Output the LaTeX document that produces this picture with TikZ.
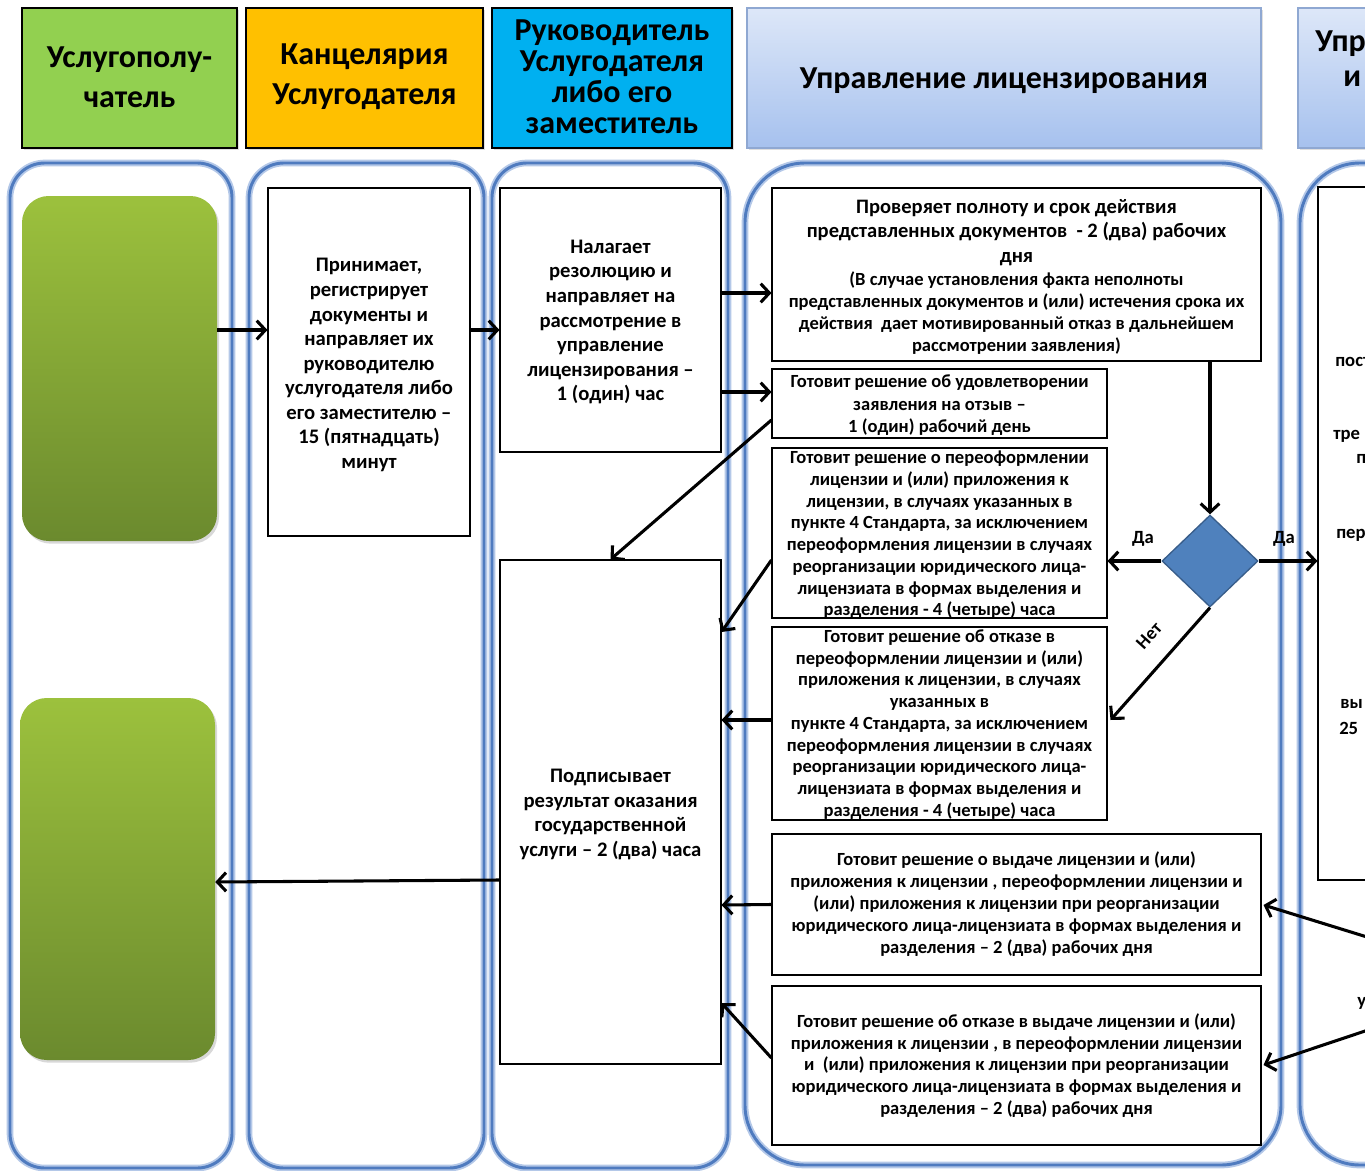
\documentclass[tikz,border=0pt]{standalone}
\usepackage{fontspec}
\setmainfont{Carlito}
\usetikzlibrary{arrows.meta,shapes.geometric,calc,shadows}
\definecolor{hgreen}{HTML}{92D050}
\definecolor{horange}{HTML}{FFC000}
\definecolor{hcyan}{HTML}{00B0F0}
\definecolor{htop}{HTML}{DDE7F8}
\definecolor{hbot}{HTML}{A6C1EE}
\definecolor{hborder}{HTML}{8FA8D2}
\definecolor{lanec}{HTML}{4F7BBF}
\definecolor{laneglow}{HTML}{B4C8E8}
\definecolor{gtop}{HTML}{9CC13D}
\definecolor{gbot}{HTML}{6B8A2E}
\definecolor{dfill}{HTML}{4F81BD}
\definecolor{dline}{HTML}{385D8A}
\tikzset{
  span/.style n args={4}{at={({(#1+#3)/2},{(#2+#4)/2})},
    minimum width={(#3-#1)*0.75pt}, minimum height={(#4-#2)*0.75pt}},
  hdr/.style={draw=black, line width=0.8pt, inner sep=0pt,
    drop shadow={opacity=0.25, shadow xshift=1.5pt, shadow yshift=-1.5pt}},
  hdrblue/.style={hdr, draw=hborder, top color=htop, bottom color=hbot},
  htxt/.style={inner sep=0pt, align=center, font=\fontsize{24}{30}\selectfont\bfseries},
  lane/.style={draw=lanec, line width=2.2pt, inner sep=0pt,
    preaction={draw=laneglow, line width=5pt}},
  gbox/.style={rounded corners=20pt, top color=gtop, bottom color=gbot, inner sep=0pt,
    drop shadow={opacity=0.3, shadow xshift=1.5pt, shadow yshift=-2pt}},
  box/.style={draw=black, line width=0.8pt, fill=white, inner sep=0pt},
  btxt/.style={inner sep=0pt, align=center, font=\fontsize{15.5}{18.4}\selectfont\bfseries},
  stxt/.style={inner sep=0pt, align=center, font=\fontsize{13.9}{16.3}\selectfont\bfseries},
  arr/.style={line width=2.3pt, -{Straight Barb[length=6.5pt,width=14pt]}},
  lbl/.style={font=\fontsize{14}{16}\selectfont\bfseries, inner sep=0pt},
  frag/.style={font=\fontsize{14}{16}\selectfont\bfseries, inner sep=0pt, anchor=west},
}
\begin{document}
\begin{tikzpicture}[x=0.75pt,y=-0.75pt]
\useasboundingbox (0,0) rectangle (1365,1171);
\fill[white] (0,0) rectangle (1365,1171);

% headers
\node[hdr, fill=hgreen, span={22}{8}{237}{148}] (h1) {};
\node[htxt] (h1t) at ($(h1.center)+(0,-1)$) {Услугополу-\\чатель};
\node[hdr, fill=horange, span={246}{8}{483}{148}] (h2) {};
\node[htxt] (h2t) at ($(h2.center)+(0,-1)$) {Канцелярия\\Услугодателя};
\node[hdr, fill=hcyan, span={492}{8}{732}{148}] (h3) {};
\node[htxt, font=\fontsize{24}{23.3}\selectfont\bfseries] (h3t) at ($(h3.center)+(0,-1.5)$) {Руководитель\\Услугодателя\\либо его\\заместитель};
\node[hdrblue, span={747}{8}{1261}{148}] (h4) {};
\node[htxt] (h4t) at ($(h4.center)+(0,3)$) {Управление лицензирования};
\node[hdrblue, span={1298}{8}{1500}{148}] (h5) {};
\node[htxt, anchor=west] (h5a) at (1315,44) {Упр};
\node[htxt, anchor=west] (h5b) at (1343,79) {и};

% lanes
\node[lane, rounded corners=26pt, span={10}{163}{232}{1168}] (lane1) {};
\node[lane, rounded corners=26pt, span={249}{163}{484}{1168}] (lane2) {};
\node[lane, rounded corners=26pt, span={492}{163}{728}{1168}] (lane3) {};
\node[lane, rounded corners=45pt, span={745}{163}{1281}{1165}] (lane4) {};
\node[lane, rounded corners=45pt, span={1300}{163}{1700}{1165}] (lane5) {};

% green terminals
\node[gbox, span={22}{196}{217}{541}] (g1) {};
\node[gbox, span={20}{698}{215}{1060}] (g2) {};

% lane 2
\node[box, span={268}{188}{470}{536}] (k1) {};
\node[btxt] (k1t) at ($(k1.center)+(0,3)$) {Принимает,\\регистрирует\\документы и\\направляет их\\руководителю\\услугодателя либо\\его заместителю –\\15 (пятнадцать)\\минут};

% lane 3
\node[box, span={500}{188}{721}{452}] (r1) {};
\node[btxt] (r1t) at ($(r1.center)+(0,2)$) {Налагает\\резолюцию и\\направляет на\\рассмотрение в\\управление\\лицензирования –\\1 (один) час};
\node[box, span={500}{560}{721}{1064}] (p2) {};
\node[btxt] (p2t) at ($(p2.center)+(0,2.5)$) {Подписывает\\результат оказания\\государственной\\услуги – 2 (два) часа};

% lane 4
\node[box, span={772}{188}{1261}{361}] (b1) {};
\node[btxt, font=\fontsize{15.4}{18.3}\selectfont\bfseries] (b1t) at ($(b1.north)+(0,45)$) {Проверяет полноту и срок действия\\представленных документов~ - 2 (два) рабочих\\дня};
\node[stxt, font=\fontsize{13.9}{16.5}\selectfont\bfseries] (b1u) at ($(b1.north)+(0,126)$) {(В случае установления факта неполноты\\представленных документов и (или) истечения срока их\\действия~ дает мотивированный отказ в дальнейшем\\рассмотрении заявления)};
\node[box, span={772}{369}{1107}{438}] (b2) {};
\node[stxt, font=\fontsize{13.9}{16.9}\selectfont\bfseries] (b2t) at ($(b2.center)+(0,2)$) {Готовит решение об удовлетворении\\заявления на отзыв –\\1 (один) рабочий день};
\node[box, span={772}{448}{1107}{618}] (b3) {};
\node[stxt] (b3t) at ($(b3.center)+(0,2)$) {Готовит решение о переоформлении\\лицензии и (или) приложения к\\лицензии, в случаях указанных в\\пункте 4 Стандарта, за исключением\\переоформления лицензии в случаях\\реорганизации юридического лица-\\лицензиата в формах выделения и\\разделения - 4 (четыре) часа};
\node[box, span={772}{627}{1107}{820}] (b4) {};
\node[stxt] (b4t) at ($(b4.center)+(0,1)$) {Готовит решение об отказе в\\переоформлении лицензии и (или)\\приложения к лицензии, в случаях\\указанных в\\пункте 4 Стандарта, за исключением\\переоформления лицензии в случаях\\реорганизации юридического лица-\\лицензиата в формах выделения и\\разделения - 4 (четыре) часа};
\node[box, span={772}{834}{1261}{975}] (b5) {};
\node[stxt, font=\fontsize{13.9}{16.5}\selectfont\bfseries] (b5t) at (b5.center) {Готовит решение о выдаче лицензии и (или)\\приложения к лицензии , переоформлении лицензии и\\(или) приложения к лицензии при реорганизации\\юридического лица-лицензиата в формах выделения и\\разделения – 2 (два) рабочих дня};
\node[box, span={772}{986}{1261}{1145}] (b6) {};
\node[stxt] (b6t) at (b6.center) {Готовит решение об отказе в выдаче лицензии и (или)\\приложения к лицензии , в переоформлении лицензии\\и~ (или) приложения к лицензии при реорганизации\\юридического лица-лицензиата в формах выделения и\\разделения – 2 (два) рабочих дня};

\node[diamond, aspect=1, fill=dfill, draw=dline, line width=1pt, minimum width=72pt, minimum height=69pt, inner sep=0pt] (d) at (1210,561) {};

% lane 5 (partial)
\node[box, fill=none, span={1318}{187}{1500}{880}] (rb) {};
\node[frag] (f1) at (1335,362) {пост};
\node[frag] (f2) at (1333,436) {тре};
\node[frag] (f3) at (1356,459) {п};
\node[frag] (f4) at (1336,535) {пер};
\node[frag] (f5) at (1340,704) {вы};
\node[frag] (f6) at (1339,728) {25};
\node[frag] (f7) at (1357,1003) {у};
\coordinate (in1) at (1380,941);
\coordinate (in2) at (1380,1026);

% connectors
\draw[arr] ($(g1.east)+(0,-38.5)$) -- ($(k1.west)+(0,-32)$);
\draw[arr] ($(k1.east)+(0,-32)$) -- ($(r1.west)+(0,10)$);
\draw[arr] ($(r1.east)+(0,-27)$) -- ($(b1.west)+(0,18.5)$);
\draw[arr] ($(r1.east)+(0,72)$) -- ($(b2.west)+(0,-11.5)$);
\draw[arr] ($(b2.west)+(0,16.5)$) -- (p2.north);
\draw[arr] ($(b3.west)+(0,27)$) -- ($(p2.east)+(0,-180)$);
\draw[arr] ($(b4.west)+(0,-3.5)$) -- ($(p2.east)+(0,-92)$);
\draw[arr] (b5.west) -- ($(p2.east)+(0,93)$);
\draw[arr] ($(b6.west)+(0,-7.5)$) -- ($(p2.east)+(0,191)$);
\draw[arr] ($(p2.west)+(0,68)$) -- ($(g2.east)+(0,3)$);
\draw[arr] (d.north |- b1.south) -- (d.north);
\draw[arr] (d.west) -- (b3.east |- d.west);
\draw[arr] (d.east) -- (rb.west |- d.east);
\draw[arr] (d.south) -- ($(b4.east)+(3,-3.5)$);
\draw[arr] (in1) -- ($(b5.east)+(2,0.5)$);
\draw[arr] (in2) -- ($(b6.east)+(2,-0.5)$);

\node[lbl] (da1) at (1143,539) {Да};
\node[lbl] (da2) at (1284,539) {Да};
\node[lbl, rotate=48] (net) at (1149,636) {Нет};
\end{tikzpicture}
\end{document}
